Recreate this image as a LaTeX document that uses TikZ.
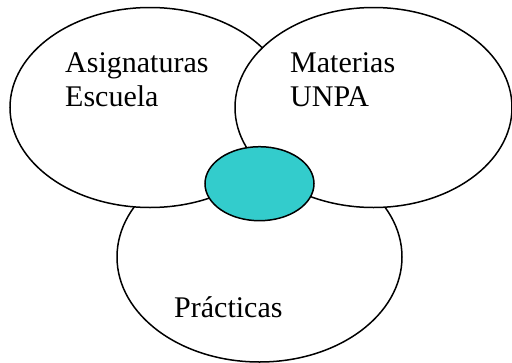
\documentclass[tikz,border=0pt]{standalone}
\usepackage{fontspec}
\setmainfont{Liberation Serif}
\usepackage{tikz}
\usetikzlibrary{shapes,positioning}
\definecolor{venncyan}{HTML}{33CCCC}
\tikzstyle{cloud} = [draw, ellipse, fill=white, line width=1.5pt,
    inner sep=0pt]
\tikzstyle{tag} = [inner sep=0pt, anchor=base west, align=left,
    font=\fontsize{30}{34.5}\selectfont]

\begin{document}
\begin{tikzpicture}[x=1pt, y=-1pt]
  \useasboundingbox (0,0) rectangle (512,362);
  % Place sets
  \node [cloud, minimum width=285pt, minimum height=210pt] (pract) at (259.5,257) {};
  \node [cloud, minimum width=280pt, minimum height=200pt] (asig) at (150,107.5) {};
  \node [cloud, minimum width=277pt, minimum height=200pt] (mat) at (373.5,107.5) {};
  \node [cloud, fill=venncyan, minimum width=109pt, minimum height=74pt] (core) at (259.5,183.7) {};
  % Place labels
  \node [tag] (asigtxt) at (65,106.8) {Asignaturas\\Escuela};
  \node [tag] (mattxt) at (290,106.8) {Materias\\UNPA};
  \node [tag] (practxt) at (174,317.3) {Prácticas};
\end{tikzpicture}
\end{document}
